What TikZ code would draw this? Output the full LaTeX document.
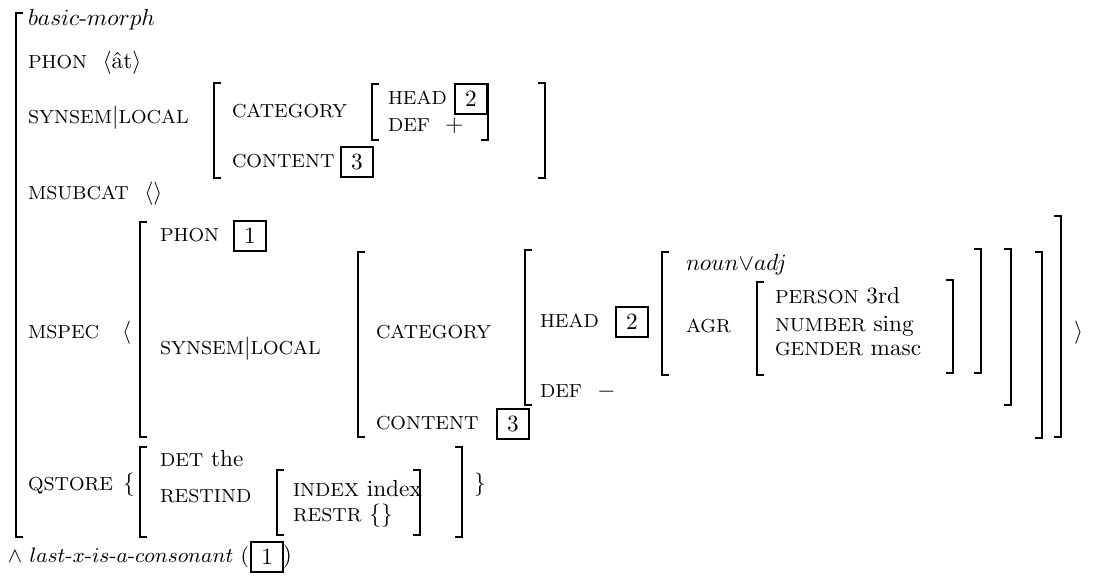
\documentclass[tikz,border=0pt]{standalone}
\usepackage{amssymb}
\usepackage{amsmath}
\usepackage{fontspec}
\setmainfont{Latin Modern Roman}
\usepackage{tikz}
\usetikzlibrary{positioning}

\newcommand{\avmL}[3]{\draw[brk] (#1+7,#2) -- (#1,#2) -- (#1,#3) -- (#1+7,#3);}
\newcommand{\avmR}[3]{\draw[brk] (#1-7,#2) -- (#1,#2) -- (#1,#3) -- (#1-7,#3);}
\newcommand{\feat}[1]{{\fontsize{8.1}{10}\selectfont#1}}

\begin{document}
\begin{tikzpicture}[x=0.43pt,y=-0.43pt,inner sep=0pt,outer sep=0pt,
    every node/.style={font=\fontsize{10}{12}\selectfont},
    lbl/.style={anchor=base west},
    tag/.style={draw,line width=0.9pt,minimum width=13.6pt,minimum height=13pt},
    brk/.style={line width=0.8pt}]
\useasboundingbox (0,0) rectangle (1093,577);
    % basic-morph
    \avmL{16}{13}{537}
    \node[lbl] (bm) at (28,25) {$basic\hbox{-}morph$};
    \node[lbl] (phon) at (28,68) {\feat{PHON}\ \ $\langle$\^at$\rangle$};
    \node[lbl] (sl) at (28,123) {\feat{SYNSEM}$|$\feat{LOCAL}};
    \avmL{214}{83}{178}
    \node[lbl] (cat) at (232,117) {\feat{CATEGORY}};
    \avmL{372}{84}{140}
    \node[lbl] (head) at (388,104) {\feat{HEAD}};
    \node[tag] (t2) at (471,99) {2};
    \node[lbl] (def) at (388,131) {\feat{DEF}\ \ $+$};
    \avmR{488}{84}{140}
    \node[lbl] (cont) at (232,167) {\feat{CONTENT}};
    \node[tag] (t3) at (357,162) {3};
    \avmR{545}{83}{178}
    \node[lbl] (msub) at (28,199) {\feat{MSUBCAT}\ \ $\langle\rangle$};
    % mspec
    \node[lbl] (msp) at (28,338) {\feat{MSPEC}};
    \node[lbl] (lang) at (122,338) {$\langle$};
    \avmL{140}{222}{437}
    \node[lbl] (phon2) at (160,241) {\feat{PHON}};
    \node[tag] (t1) at (250,236) {1};
    \node[lbl] (sl2) at (160,354) {\feat{SYNSEM}$|$\feat{LOCAL}};
    \avmL{358}{252}{437}
    \node[lbl] (cat2) at (376,338) {\feat{CATEGORY}};
    \node[lbl] (cont2) at (376,429) {\feat{CONTENT}};
    \node[tag] (t3b) at (513,424) {3};
    \avmL{525}{250}{405}
    \node[lbl] (head2) at (540,327) {\feat{HEAD}};
    \node[tag] (t2b) at (632,322) {2};
    \node[lbl] (def2) at (540,397) {\feat{DEF}\ \ $-$};
    \avmL{662}{252}{375}
    \node[lbl] (na) at (686,270) {$noun{\vee}adj$};
    \node[lbl] (agr) at (686,332) {\feat{AGR}};
    \avmL{757}{282}{375}
    \node[lbl] (pers) at (775,303) {\feat{PERSON} 3rd};
    \node[lbl] (num) at (775,331) {\feat{NUMBER} sing};
    \node[lbl] (gen) at (775,355) {\feat{GENDER} masc};
    \avmR{953}{280}{373}
    \avmR{981}{249}{373}
    \avmR{1011}{249}{405}
    \avmR{1042}{252}{438}
    \avmR{1061}{216}{437}
    \node[lbl] (rang) at (1074,338) {$\rangle$};
    % qstore
    \node[lbl] (qs) at (28,490) {\feat{QSTORE}};
    \node[lbl] (lbr) at (123,490) {$\{$};
    \avmL{140}{447}{537}
    \node[lbl] (det) at (160,466) {\feat{DET} the};
    \node[lbl] (ri) at (160,502) {\feat{RESTIND}};
    \avmL{277}{470}{535}
    \node[lbl] (idx) at (293,496) {\feat{INDEX} index};
    \node[lbl] (rs) at (293,521) {\feat{RESTR} $\{\}$};
    \avmR{420}{470}{535}
    \avmR{462}{447}{537}
    \node[lbl] (rbr) at (474,490) {$\}$};
    % constraint
    \node[lbl,font=\fontsize{9}{11}\selectfont] (lx) at (8,562) {$\wedge$ $last\hbox{-}x\hbox{-}is\hbox{-}a\hbox{-}consonant$ (};
    \node[tag,right=1pt of lx.east] (t1b) {1};
    \node[lbl] (cp) at (t1b.east |- lx.base) {)};
\end{tikzpicture}
\end{document}
